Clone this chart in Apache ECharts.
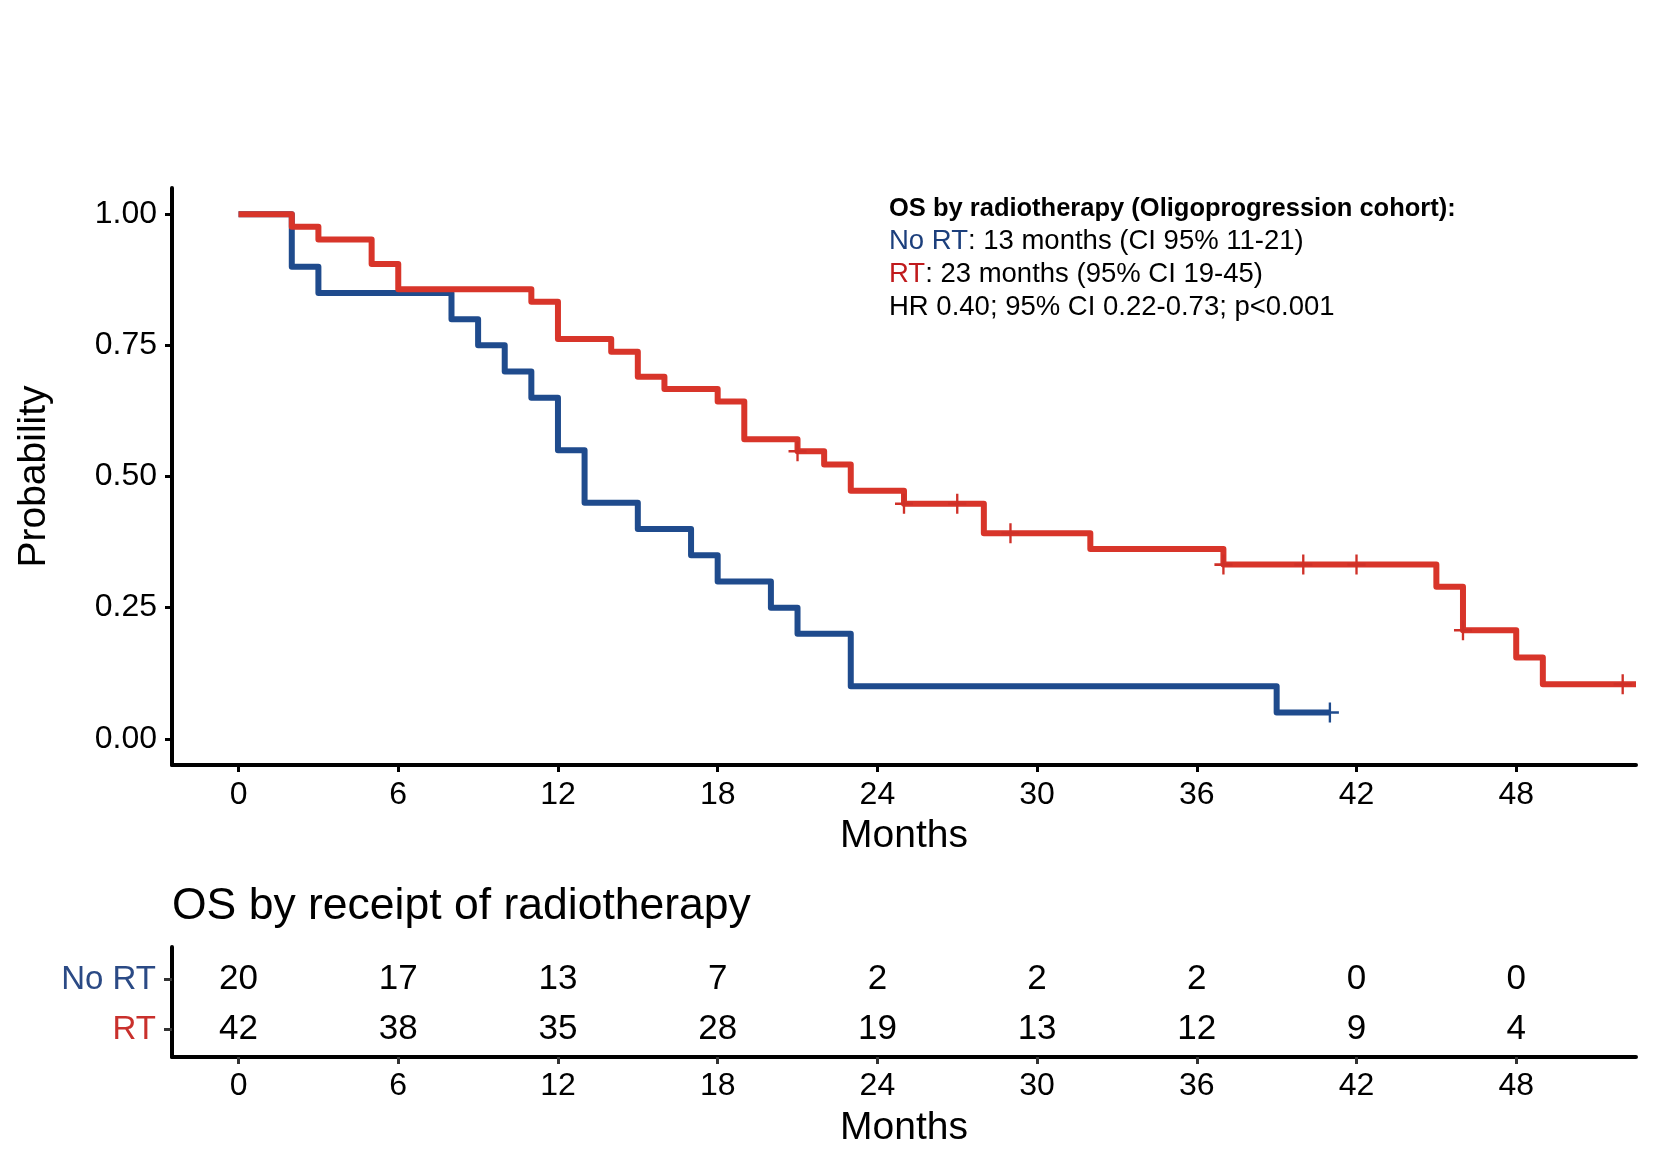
<!DOCTYPE html>
<html>
<head>
<meta charset="utf-8">
<script src="https://cdn.jsdelivr.net/npm/echarts@6/dist/echarts.min.js"></script>
<style>html,body{margin:0;padding:0;background:#fff}#c{width:1653px;height:1164px}</style>
</head>
<body>
<div id="c"></div>
<script>
// ---- data ----
const monthTicks = [0, 6, 12, 18, 24, 30, 36, 42, 48];
const probTicks = [0, 0.25, 0.5, 0.75, 1];

const rtTimes = [0, 2, 3, 5, 6, 11, 12, 14, 15, 16, 18, 19, 21, 22, 23, 25, 28, 32, 37, 45, 46, 48, 49, 52.5];
const rtSurv  = [1.000, 0.976, 0.952, 0.905, 0.857, 0.833, 0.762, 0.738, 0.690, 0.667, 0.643, 0.571, 0.548, 0.523, 0.473, 0.448, 0.392, 0.362, 0.332, 0.290, 0.207, 0.155, 0.104, 0.104];
const rtCensorTimes = [21, 25, 27, 29, 37, 40, 42, 46, 52];
const rtCensorSurv  = [0.548, 0.448, 0.448, 0.392, 0.332, 0.332, 0.332, 0.207, 0.104];

const noRtTimes = [0, 2, 3, 8, 9, 10, 11, 12, 13, 15, 17, 18, 20, 21, 23, 39, 41];
const noRtSurv  = [1.00, 0.90, 0.85, 0.80, 0.75, 0.70, 0.65, 0.55, 0.45, 0.40, 0.35, 0.30, 0.25, 0.20, 0.10, 0.05, 0.05];
const noRtCensorTimes = [41];
const noRtCensorSurv  = [0.05];

const riskGroups = ['RT', 'No RT'];
const riskNoRt = [20, 17, 13, 7, 2, 2, 2, 0, 0];
const riskRt   = [42, 38, 35, 28, 19, 13, 12, 9, 4];

// ---- styling ----
const RED = '#d8352a';
const BLUE = '#1f4b8d';
const FONT = 'Liberation Sans, Arial, Helvetica, sans-serif';
const zip = (a, b) => a.map((v, i) => [v, b[i]]);
const crossPath = 'path://M8.7,0h2.6v8.7h8.7v2.6h-8.7v8.7h-2.6v-8.7h-8.7v-2.6h8.7z';

const chart = echarts.init(document.getElementById('c'), null, {renderer: 'canvas'});

const xAxisBase = {
  type: 'value', min: -2.5, max: 52.5,
  axisLine: {show: true, onZero: false, lineStyle: {color: '#000', width: 4}},
  axisTick: {show: true, length: 7, lineStyle: {color: '#000', width: 3}, customValues: monthTicks},
  axisLabel: {customValues: monthTicks, fontSize: 32, color: '#000', fontFamily: FONT, margin: 14},
  splitLine: {show: false},
  name: 'Months', nameLocation: 'middle', nameGap: 52,
  nameTextStyle: {fontSize: 39, color: '#000', fontFamily: FONT}
};

chart.setOption({
  animation: false,
  backgroundColor: '#fff',
  title: [
    {
      left: 889, top: 192, padding: 0,
      text: '{b|OS by radiotherapy (Oligoprogression cohort):}\n{bl|No RT}{k|: 13 months (CI 95% 11-21)}\n{rd|RT}{k|: 23 months (95% CI 19-45)}\n{k|HR 0.40; 95% CI 0.22-0.73; p<0.001}',
      textStyle: {
        fontFamily: FONT, fontSize: 27, fontWeight: 'normal', lineHeight: 33,
        rich: {
          b: {fontFamily: FONT, fontSize: 25.5, fontWeight: 'bold', color: '#000', lineHeight: 33},
          bl: {fontFamily: FONT, fontSize: 27.5, fontWeight: 'normal', color: '#1c3f7c', lineHeight: 33},
          rd: {fontFamily: FONT, fontSize: 27.5, fontWeight: 'normal', color: '#c01a1c', lineHeight: 33},
          k: {fontFamily: FONT, fontSize: 27.5, fontWeight: 'normal', color: '#000', lineHeight: 33}
        }
      }
    },
    {
      left: 172, top: 884, padding: 0,
      text: 'OS by receipt of radiotherapy',
      textStyle: {fontFamily: FONT, fontSize: 44.5, fontWeight: 'normal', color: '#000'}
    }
  ],
  grid: [
    {left: 172, right: 17, top: 188, height: 577, containLabel: false},
    {left: 172, right: 17, top: 947, height: 110, containLabel: false}
  ],
  xAxis: [
    Object.assign({}, xAxisBase, {gridIndex: 0}),
    Object.assign({}, xAxisBase, {
      gridIndex: 1,
      axisTick: {show: true, length: 7, lineStyle: {color: '#333', width: 3}, customValues: monthTicks},
      axisLabel: {customValues: monthTicks, fontSize: 32, color: '#000', fontFamily: FONT, margin: 13}
    })
  ],
  yAxis: [
    {
      gridIndex: 0, type: 'value', min: -0.05, max: 1.05,
      axisLine: {show: true, onZero: false, lineStyle: {color: '#000', width: 4}},
      axisTick: {show: true, length: 7, lineStyle: {color: '#000', width: 3}, customValues: probTicks},
      axisLabel: {customValues: probTicks, fontSize: 32, color: '#000', fontFamily: FONT, margin: 15,
        formatter: v => v.toFixed(2)},
      splitLine: {show: false},
      name: 'Probability', nameLocation: 'middle', nameGap: 118, nameRotate: 90,
      nameTextStyle: {fontSize: 39, color: '#000', fontFamily: FONT}
    },
    {
      gridIndex: 1, type: 'value', min: 0.45, max: 2.65,
      axisLine: {show: true, onZero: false, lineStyle: {color: '#000', width: 4}},
      axisTick: {show: true, length: 8, lineStyle: {color: '#333', width: 3}, customValues: [1, 2]},
      axisLabel: {customValues: [1, 2], fontSize: 33, fontFamily: FONT, margin: 16,
        formatter: v => (v === 2 ? '{bl|' + riskGroups[1] + '}' : '{rd|' + riskGroups[0] + '}'),
        rich: {
          bl: {fontSize: 33, fontFamily: FONT, color: '#2b4a85'},
          rd: {fontSize: 33, fontFamily: FONT, color: '#c9302c'}
        }},
      splitLine: {show: false}
    }
  ],
  series: [
    {
      type: 'line', step: 'end', xAxisIndex: 0, yAxisIndex: 0,
      data: zip(noRtTimes, noRtSurv), symbol: 'none',
      lineStyle: {color: BLUE, width: 6, join: 'round'}, z: 2
    },
    {
      type: 'scatter', xAxisIndex: 0, yAxisIndex: 0,
      data: zip(noRtCensorTimes, noRtCensorSurv), symbol: crossPath, symbolSize: [18, 20],
      itemStyle: {color: BLUE, opacity: 1}, z: 3
    },
    {
      type: 'line', step: 'end', xAxisIndex: 0, yAxisIndex: 0,
      data: zip(rtTimes, rtSurv), symbol: 'none',
      lineStyle: {color: RED, width: 6, join: 'round'}, z: 4
    },
    {
      type: 'scatter', xAxisIndex: 0, yAxisIndex: 0,
      data: zip(rtCensorTimes, rtCensorSurv), symbol: crossPath, symbolSize: [18, 20],
      itemStyle: {color: '#cf3028', opacity: 1}, z: 5
    },
    {
      type: 'scatter', xAxisIndex: 1, yAxisIndex: 1, symbolSize: 0,
      itemStyle: {opacity: 1},
      data: monthTicks.map((t, i) => [t, 2, riskNoRt[i]]),
      label: {show: true, position: 'inside', formatter: p => String(p.value[2]),
        fontSize: 35, color: '#000', opacity: 1, fontFamily: FONT}
    },
    {
      type: 'scatter', xAxisIndex: 1, yAxisIndex: 1, symbolSize: 0,
      itemStyle: {opacity: 1},
      data: monthTicks.map((t, i) => [t, 1, riskRt[i]]),
      label: {show: true, position: 'inside', formatter: p => String(p.value[2]),
        fontSize: 35, color: '#000', opacity: 1, fontFamily: FONT}
    }
  ]
});
</script>
</body>
</html>
